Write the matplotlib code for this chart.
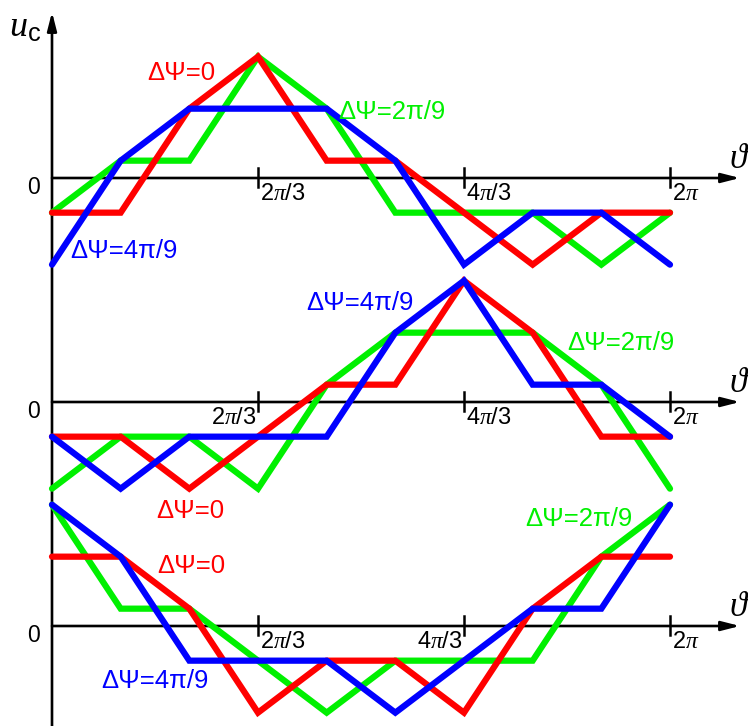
import numpy as np
import matplotlib
matplotlib.use('Agg')
import matplotlib.pyplot as plt

plt.rcParams['font.family'] = ['Liberation Sans', 'DejaVu Sans']
plt.rcParams['mathtext.fontset'] = 'custom'
plt.rcParams['mathtext.rm'] = 'Liberation Sans'
plt.rcParams['mathtext.it'] = 'Liberation Serif:italic'
plt.rcParams['mathtext.bf'] = 'Liberation Sans:bold'

# ---- data: u_c levels (in units of 1/3) at theta = k*2pi/9, k=0..9 ----
theta = np.arange(10) * 2 * np.pi / 9
red_1 = [-2, -2, 4, 7, 1, 1, -2, -5, -2, -2]
green_1 = [-2, 1, 1, 7, 4, -2, -2, -2, -5, -2]
blue_1 = [-5, 1, 4, 4, 4, 1, -5, -2, -2, -5]
red_2 = [-2, -2, -5, -2, 1, 1, 7, 4, -2, -2]
green_2 = [-5, -2, -2, -5, 1, 4, 4, 4, 1, -5]
blue_2 = [-2, -5, -2, -2, -2, 4, 7, 1, 1, -2]
red_3 = [4, 4, 1, -5, -2, -2, -5, 1, 4, 4]
green_3 = [7, 1, 1, -2, -5, -2, -2, -2, 4, 7]
blue_3 = [7, 4, -2, -2, -2, -5, -2, 1, 1, 7]

tick_pos = [2 * np.pi / 3, 4 * np.pi / 3, 2 * np.pi]
tick_labels = [r'$2\pi/3$', r'$4\pi/3$', r'$2\pi$']
series_labels = ['ΔΨ=0', 'ΔΨ=2π/9', 'ΔΨ=4π/9']

RED, GREEN, BLUE = '#ff0000', '#00f000', '#0000ff'

# ---- layout (pixels) ----
W, H = 748, 726
X0 = 52          # pixel of theta = 0
XSPAN = 618      # pixels for 2*pi
UNIT = 52        # pixels per 1 unit of u_c
zeros_px = [178, 402, 626]
tick_sides = [['r', 'r', 'r'], ['l', 'r', 'r'], ['r', 'l', 'r']]
label_px = [
    [(181, 73), (392, 112), (124, 251)],
    [(190, 511), (621, 343), (360, 303)],
    [(191, 566), (579, 519), (155, 681)],
]

fig = plt.figure(figsize=(W / 100, H / 100), dpi=100)

panels = [(red_1, green_1, blue_1), (red_2, green_2, blue_2), (red_3, green_3, blue_3)]
xl = (-X0 / XSPAN * 2 * np.pi, (W - X0) / XSPAN * 2 * np.pi)
LW = 4.5
AX_LW = 1.9

for i, (r, g, b) in enumerate(panels):
    z = zeros_px[i]
    top, bot = z - 124, z + 100
    ax = fig.add_axes([0, 1 - bot / H, 1, (bot - top) / H])
    ax.set_xlim(*xl)
    ax.set_ylim(-(bot - z) / UNIT, (z - top) / UNIT)
    ax.axis('off')
    # horizontal axis with arrow
    ax.annotate('', xy=((740 - X0) / XSPAN * 2 * np.pi, 0), xytext=(0, 0),
                arrowprops=dict(arrowstyle='-|>,head_length=1.1,head_width=0.28',
                                lw=AX_LW, color='black', mutation_scale=10,
                                shrinkA=0, shrinkB=0), zorder=1)
    for tp, tl, side in zip(tick_pos, tick_labels, tick_sides[i]):
        ax.plot([tp, tp], [10 / UNIT, -9 / UNIT], color='black', lw=1.8, zorder=1,
                clip_on=False)
        off = 2 if side == 'r' else -1
        ax.annotate(tl, xy=(tp, 0), xytext=(off * 1.0, -16), textcoords='offset pixels',
                    ha='left' if side == 'r' else 'right', va='center',
                    fontsize=17, color='black')
    for vals, col, zo in ((g, GREEN, 3), (r, RED, 4), (b, BLUE, 5)):
        ax.plot(theta, np.array(vals) / 3, color=col, lw=LW, zorder=zo,
                solid_joinstyle='miter', solid_capstyle='round', clip_on=False)
    for (px, py), txt, col in zip(label_px[i], series_labels, (RED, GREEN, BLUE)):
        fig.text(px / W, 1 - py / H, txt, color=col, fontsize=18.5, ha='center', va='center')
    fig.text(34 / W, 1 - (z + 9) / H, '0', fontsize=16.5, ha='center', va='center')
    fig.text(739 / W, 1 - (z - 19) / H, r'$\vartheta$', fontsize=25, ha='center',
             va='center')

# vertical axis with arrow
ov = fig.add_axes([0, 0, 1, 1], zorder=-1)
ov.set_xlim(0, W)
ov.set_ylim(H, 0)
ov.axis('off')
ov.annotate('', xy=(X0, 12), xytext=(X0, H),
            arrowprops=dict(arrowstyle='-|>,head_length=1.1,head_width=0.28',
                            lw=AX_LW, color='black', mutation_scale=10,
                            shrinkA=0, shrinkB=0))
fig.text(25 / W, 1 - 27 / H, r'$u_{\mathrm{c}}$', fontsize=26, ha='center', va='center')

fig.savefig('out.png', dpi=100)
